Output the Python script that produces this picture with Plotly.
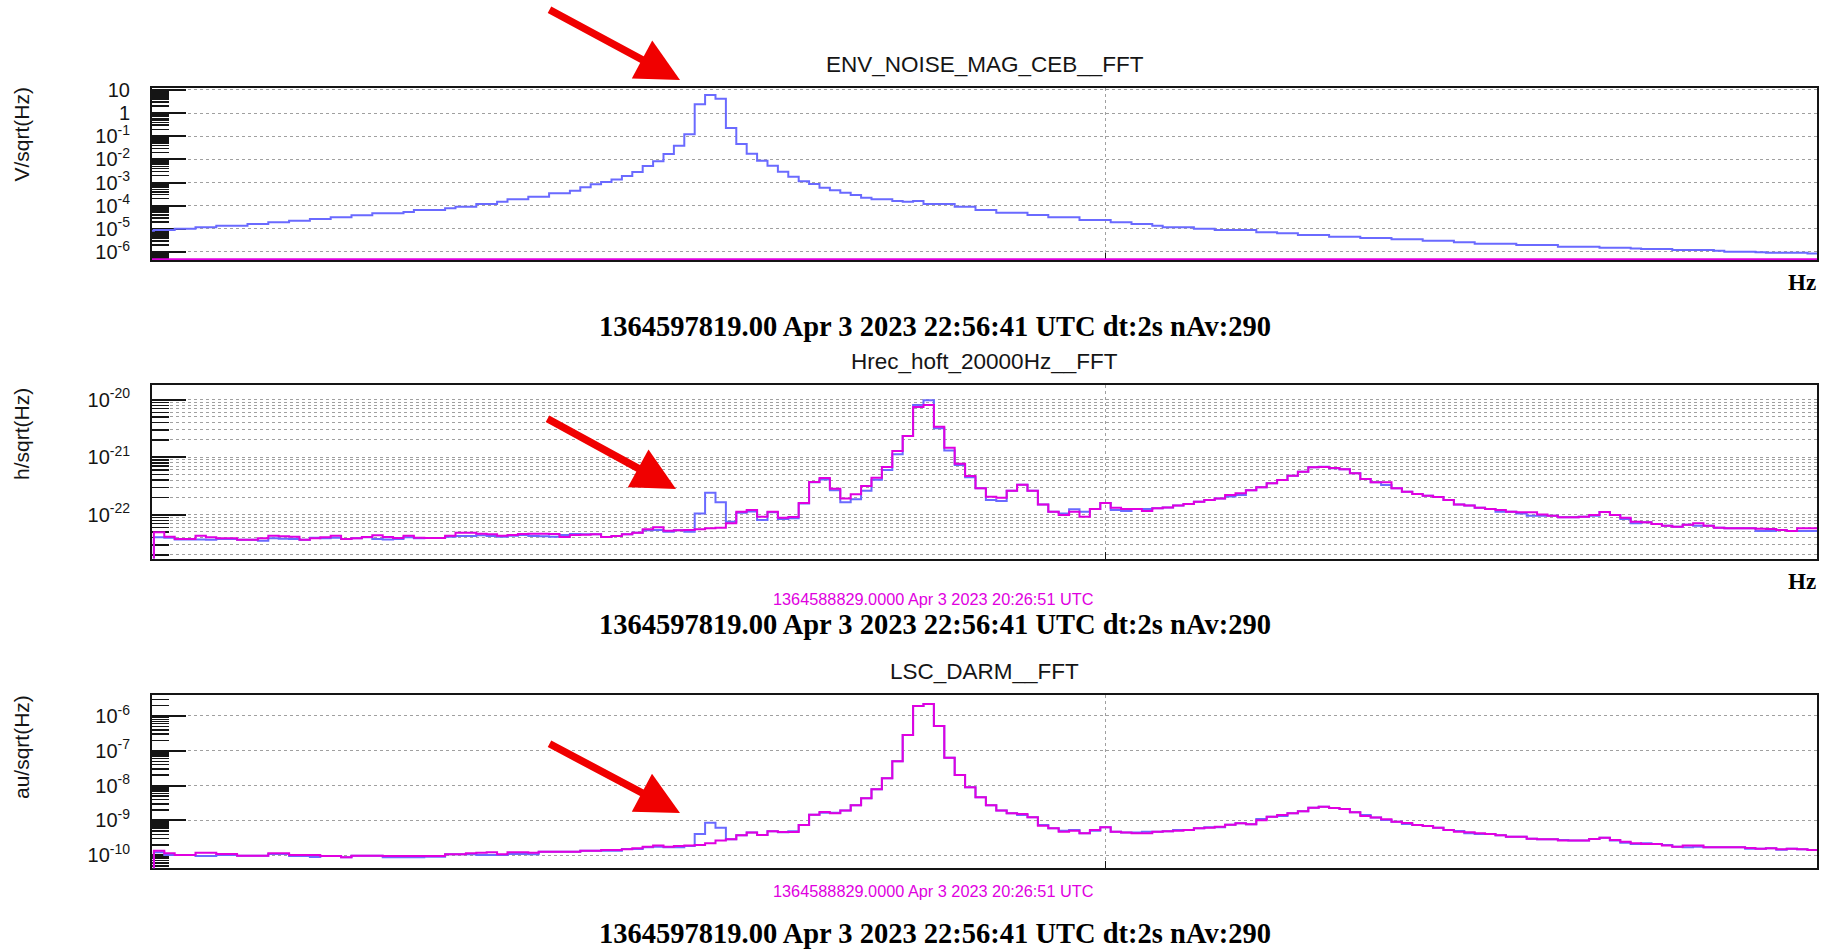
import numpy as np
import plotly.graph_objects as go

W, H = 1821, 950

# ---------------------------------------------------------------------------
# Spectra: 0.5 Hz bins (dt = 2 s), bin centres 4.0 ... 84.0 Hz
# ---------------------------------------------------------------------------
freq = np.arange(4.0, 84.0 + 0.25, 0.5)
half_bin = 0.25

# ENV_NOISE_MAG_CEB  [V/sqrt(Hz)]
env_asd = [
    8.30e-6, 8.87e-6, 8.87e-6, 1.01e-5, 1.01e-5, 1.16e-5, 1.16e-5, 1.37e-5, 1.37e-5, 1.37e-5,
    1.61e-5, 1.61e-5, 1.91e-5, 1.91e-5, 2.25e-5, 2.25e-5, 2.65e-5, 2.65e-5, 3.13e-5, 3.13e-5,
    3.82e-5, 3.82e-5, 4.66e-5, 4.66e-5, 4.66e-5, 5.32e-5, 6.50e-5, 6.50e-5, 6.50e-5, 7.67e-5,
    9.06e-5, 9.06e-5, 1.18e-4, 1.18e-4, 1.49e-4, 1.88e-4, 1.88e-4, 2.45e-4, 2.45e-4, 3.41e-4,
    3.41e-4, 4.45e-4, 6.21e-4, 8.36e-4, 1.05e-3, 1.37e-3, 1.92e-3, 2.85e-3, 5.18e-3, 8.24e-3,
    1.71e-2, 3.93e-2, 0.121, 2.40, 6.08, 4.22, 0.228, 4.63e-2, 1.77e-2, 8.81e-3,
    5.36e-3, 2.95e-3, 1.79e-3, 1.13e-3, 8.65e-4, 6.00e-4, 4.60e-4, 3.65e-4, 2.89e-4, 2.22e-4,
    1.88e-4, 1.88e-4, 1.59e-4, 1.49e-4, 1.59e-4, 1.18e-4, 1.18e-4, 1.18e-4, 9.06e-5, 9.06e-5,
    6.50e-5, 6.50e-5, 4.98e-5, 4.98e-5, 4.98e-5, 3.95e-5, 3.95e-5, 3.13e-5, 3.13e-5, 3.13e-5,
    2.40e-5, 2.40e-5, 2.40e-5, 1.91e-5, 1.91e-5, 1.61e-5, 1.61e-5, 1.37e-5, 1.16e-5, 1.16e-5,
    1.16e-5, 1.01e-5, 1.01e-5, 8.87e-6, 8.87e-6, 8.87e-6, 8.87e-6, 7.03e-6, 7.03e-6, 6.37e-6,
    6.37e-6, 5.40e-6, 5.40e-6, 5.40e-6, 4.57e-6, 4.57e-6, 4.57e-6, 4.00e-6, 4.00e-6, 4.00e-6,
    3.51e-6, 3.51e-6, 3.51e-6, 3.07e-6, 3.07e-6, 3.07e-6, 2.60e-6, 2.60e-6, 2.28e-6, 2.28e-6,
    2.28e-6, 2.28e-6, 1.99e-6, 1.99e-6, 1.99e-6, 1.99e-6, 1.69e-6, 1.69e-6, 1.69e-6, 1.69e-6,
    1.53e-6, 1.53e-6, 1.53e-6, 1.43e-6, 1.34e-6, 1.34e-6, 1.34e-6, 1.21e-6, 1.21e-6, 1.21e-6,
    1.21e-6, 1.14e-6, 1.03e-6, 1.03e-6, 1.03e-6, 9.62e-7, 9.30e-7, 9.30e-7, 9.30e-7, 9.30e-7,
    8.69e-7,
]
env_ref_level = 4.9e-7  # reference trace sits on the axis floor

# Hrec_hoft_20000Hz  [1e-23 h/sqrt(Hz)]
hrec_asd = [
    0.1,
    4.04, 3.98, 3.72, 3.72, 3.72, 3.67, 3.78, 3.78, 3.67, 3.67,
    3.53, 3.88, 3.83, 3.78, 3.67, 3.98, 3.88, 3.98, 3.78, 3.88,
    4.04, 3.78, 3.72, 3.78, 4.04, 3.88, 3.93, 3.93, 4.14, 4.26,
    4.26, 4.37, 4.26, 4.14, 4.31, 4.43, 4.26, 4.20, 4.14, 4.43,
    4.61, 4.55, 4.55, 4.09, 4.26, 4.55, 4.86, 5.34, 5.41, 5.06,
    5.34, 5.06, 10.5, 24.1, 16.4, 7.55, 10.8, 11.4, 8.08, 11.0,
    8.41, 8.63, 15.6, 36.5, 41.1, 26.5, 16.4, 18.5, 26.1, 40.6,
    59.8, 112, 233, 807, 973, 317, 131, 73.0, 44.6, 28.7,
    18.0, 17.3, 26.1, 33.2, 26.1, 15.1, 11.3, 10.5, 12.4, 11.3,
    12.6, 16.0, 12.1, 11.6, 12.6, 12.6, 12.9, 13.4, 14.4, 15.3,
    16.8, 18.0, 19.2, 20.8, 22.0, 26.5, 29.9, 35.1, 40.1, 47.7,
    56.0, 66.6, 68.4, 64.0, 61.4, 52.4, 41.7, 36.5, 32.8, 28.7,
    25.1, 22.9, 21.4, 20.3, 18.0, 15.1, 14.4, 13.2, 12.6, 11.3,
    11.3, 10.5, 9.61, 9.61, 9.61, 8.99, 8.99, 9.23, 9.61, 11.1,
    9.87, 8.41, 7.07, 7.35, 6.88, 6.44, 6.18, 6.70, 6.44, 6.44,
    5.94, 5.78, 5.78, 5.78, 5.20, 5.20, 5.41, 5.20, 5.20, 5.20,
]
hrec_ref = [
    0.1,
    4.93, 4.14, 3.78, 3.78, 4.31, 4.04, 3.88, 3.88, 3.67, 3.67,
    3.88, 4.31, 4.20, 4.14, 3.67, 3.88, 4.04, 4.31, 3.78, 3.88,
    4.09, 4.37, 4.09, 3.93, 4.31, 3.98, 3.93, 3.93, 4.31, 4.86,
    4.86, 4.67, 4.55, 4.31, 4.43, 4.61, 4.67, 4.67, 4.61, 4.09,
    4.43, 4.49, 4.55, 4.09, 4.26, 4.55, 4.86, 5.56, 6.02, 5.27,
    5.34, 5.41, 5.56, 5.78, 5.94, 7.07, 11.3, 12.1, 9.23, 11.3,
    8.87, 9.10, 16.0, 37.0, 43.4, 28.3, 19.2, 22.6, 31.5, 44.0,
    67.5, 128, 233, 745, 807, 339, 146, 77.0, 47.0, 28.7,
    20.6, 19.8, 26.1, 33.2, 26.1, 15.1, 11.3, 9.87, 11.3, 9.23,
    12.6, 16.0, 13.2, 12.6, 12.6, 11.6, 12.9, 13.4, 14.4, 15.3,
    16.8, 18.0, 19.2, 22.0, 23.5, 26.5, 29.9, 35.1, 40.1, 47.7,
    56.0, 66.6, 67.5, 64.8, 61.4, 52.4, 41.7, 36.5, 36.5, 28.7,
    25.1, 22.9, 21.4, 20.3, 18.0, 15.1, 14.4, 13.2, 12.6, 12.1,
    11.3, 11.0, 11.0, 10.1, 9.61, 8.99, 8.99, 9.23, 9.87, 11.1,
    9.87, 8.87, 7.55, 7.35, 6.88, 6.44, 6.18, 6.70, 7.07, 6.44,
    5.94, 5.78, 5.78, 5.78, 5.71, 5.64, 5.41, 5.20, 5.78, 5.78,
]

# LSC_DARM  [1e-10 au/sqrt(Hz)]
darm_asd = [
    0.01,
    1.22, 1.02, 1.02, 1.02, 0.957, 0.957, 1.02, 1.02, 0.978, 0.978,
    0.978, 1.09, 1.09, 0.957, 0.957, 0.896, 0.957, 0.957, 0.877, 0.978,
    0.978, 0.978, 0.877, 0.877, 0.877, 0.877, 0.916, 0.916, 1.07, 1.07,
    1.07, 1.02, 1.02, 1.02, 1.09, 1.09, 1.07, 1.27, 1.27, 1.27,
    1.27, 1.36, 1.36, 1.36, 1.36, 1.52, 1.52, 1.70, 1.77, 1.70,
    1.70, 1.85, 4.10, 8.67, 6.23, 2.88, 3.75, 4.48, 3.84, 4.89,
    4.57, 4.89, 7.43, 14.7, 16.8, 16.8, 19.2, 27.2, 43.3, 78.5,
    162, 500, 2850, 19370, 22080, 5165, 637, 202, 89.6, 46.3,
    27.2, 19.2, 16.1, 14.4, 12.3, 7.43, 5.96, 5.11, 5.33, 4.28,
    5.11, 6.37, 4.78, 4.48, 4.48, 4.78, 4.78, 4.89, 5.33, 5.33,
    5.96, 6.37, 6.37, 7.59, 8.29, 7.76, 11.0, 12.9, 13.5, 16.1,
    18.3, 23.3, 24.9, 22.8, 21.4, 17.1, 14.4, 12.1, 10.4, 9.26,
    7.94, 7.43, 6.95, 6.23, 5.33, 5.00, 4.28, 4.10, 4.10, 3.75,
    3.43, 3.43, 3.01, 2.88, 2.88, 2.75, 2.64, 2.64, 2.94, 3.21,
    2.64, 2.31, 2.12, 2.21, 2.12, 1.98, 1.77, 1.70, 1.77, 1.70,
    1.70, 1.70, 1.70, 1.55, 1.55, 1.59, 1.45, 1.55, 1.49, 1.42,
]
darm_ref = [
    0.01,
    1.36, 1.14, 1.02, 1.02, 1.19, 1.19, 1.09, 1.09, 0.978, 0.978,
    0.978, 1.14, 1.14, 1.02, 1.02, 1.02, 0.957, 0.957, 0.877, 0.978,
    0.978, 0.978, 0.957, 0.957, 0.957, 0.957, 0.957, 0.957, 1.07, 1.07,
    1.14, 1.19, 1.22, 1.07, 1.22, 1.22, 1.19, 1.27, 1.27, 1.27,
    1.27, 1.36, 1.36, 1.42, 1.42, 1.49, 1.59, 1.77, 1.90, 1.77,
    1.85, 1.90, 1.98, 2.21, 2.64, 2.88, 3.75, 4.48, 3.84, 4.89,
    4.68, 4.68, 7.43, 14.7, 17.5, 16.1, 19.2, 27.2, 43.3, 78.5,
    162, 500, 2850, 19370, 22080, 5165, 637, 202, 89.6, 46.3,
    27.2, 19.2, 16.1, 15.4, 12.3, 7.11, 5.96, 4.78, 5.11, 4.28,
    5.33, 6.37, 4.78, 4.48, 4.28, 4.28, 4.78, 4.89, 5.11, 5.33,
    5.96, 6.23, 6.65, 7.59, 8.29, 7.76, 10.1, 12.9, 14.4, 16.1,
    18.3, 23.3, 24.9, 22.8, 21.4, 17.1, 13.5, 12.1, 10.8, 9.26,
    8.48, 7.43, 6.95, 6.23, 5.33, 4.78, 4.57, 4.28, 4.10, 3.75,
    3.43, 3.43, 3.01, 2.88, 2.88, 2.64, 2.64, 2.64, 2.94, 3.21,
    2.75, 2.47, 2.21, 2.12, 2.12, 1.90, 1.77, 1.90, 1.90, 1.70,
    1.70, 1.70, 1.70, 1.63, 1.55, 1.59, 1.49, 1.55, 1.49, 1.42,
]

for arr in (env_asd, hrec_asd, hrec_ref, darm_asd, darm_ref):
    assert len(arr) == len(freq), len(arr)

# text
titles = ["ENV_NOISE_MAG_CEB__FFT", "Hrec_hoft_20000Hz__FFT", "LSC_DARM__FFT"]
units = ["V/sqrt(Hz)", "h/sqrt(Hz)", "au/sqrt(Hz)"]
stamp = "1364597819.00 Apr 3 2023 22:56:41 UTC dt:2s nAv:290"
ref_stamp = "1364588829.0000 Apr 3 2023 20:26:51 UTC"

# ---------------------------------------------------------------------------
BLUE = "#6a6aff"
MAGENTA = "#e000e0"
GRID = "#a0a0a0"
INK = "#151515"
SANS = "Liberation Sans, Arial, Helvetica, sans-serif"
SERIF = "Liberation Serif, Times New Roman, serif"

edges = np.append(freq - half_bin, freq[-1] + half_bin)


def step_y(vals, scale=1.0):
    v = np.asarray(vals, dtype=float) * scale
    return np.append(v, v[-1])


# panel frames in page pixels (top, bottom)
PLOT_L, PLOT_R = 152, 1817
panels = [(88.3, 260.0), (384.5, 558.5), (694.5, 868.3)]
xrange_hz = [4.159, 84.207]
yranges = [[-6.347, 1.073], [-22.762, -19.736], [-10.373, -5.383]]


def ydom(top, bot):
    return [1 - bot / H, 1 - top / H]


def sup(e):
    return f"10<sup>{e}</sup>"


fig = go.Figure()

series = [
    (env_asd, 1.0, [env_ref_level] * len(freq), 1.0),
    (hrec_asd, 1e-23, hrec_ref, 1e-23),
    (darm_asd, 1e-10, darm_ref, 1e-10),
]
for k, (cur, cs, ref, rs) in enumerate(series):
    ax = "" if k == 0 else str(k + 1)
    fig.add_trace(go.Scatter(x=edges, y=step_y(cur, cs), mode="lines",
                             line=dict(color=BLUE, width=2, shape="hv"),
                             xaxis="x" + ax, yaxis="y" + ax, showlegend=False,
                             hoverinfo="skip"))
    fig.add_trace(go.Scatter(x=edges, y=step_y(ref, rs), mode="lines",
                             line=dict(color=MAGENTA, width=2, shape="hv"),
                             xaxis="x" + ax, yaxis="y" + ax, showlegend=False,
                             hoverinfo="skip"))

# y tick definitions per panel
ytick_sets = [
    ([1e-6, 1e-5, 1e-4, 1e-3, 1e-2, 1e-1, 1, 10],
     [sup(-6), sup(-5), sup(-4), sup(-3), sup(-2), sup(-1), "1", "10"], range(-7, 2)),
    ([1e-22, 1e-21, 1e-20], [sup(-22), sup(-21), sup(-20)], range(-23, -19)),
    ([1e-10, 1e-9, 1e-8, 1e-7, 1e-6],
     [sup(-10), sup(-9), sup(-8), sup(-7), sup(-6)], range(-11, -5)),
]

layout = dict(
    width=W, height=H,
    margin=dict(l=0, r=0, t=0, b=0, pad=0, autoexpand=False),
    paper_bgcolor="white", plot_bgcolor="white", showlegend=False,
)

for k, (top, bot) in enumerate(panels):
    sfx = "" if k == 0 else str(k + 1)
    tv, tt, decs = ytick_sets[k]
    minor_vals = [m * 10.0 ** e for e in decs for m in range(2, 10)]
    layout["xaxis" + sfx] = dict(
        domain=[PLOT_L / W, PLOT_R / W], range=xrange_hz, anchor="y" + sfx,
        showline=True, mirror=True, linecolor=INK, linewidth=2,
        ticks="inside", tickmode="array", tickvals=[50], ticklen=7,
        tickwidth=1.5, tickcolor=INK, showticklabels=False,
        showgrid=True, gridcolor=GRID, griddash="dot", gridwidth=1,
        zeroline=False, layer="below traces", fixedrange=True, automargin=False,
    )
    layout["yaxis" + sfx] = dict(
        type="log", domain=ydom(top, bot), range=yranges[k], anchor="x" + sfx,
        showline=True, mirror=True, linecolor=INK, linewidth=2,
        ticks="inside", ticklen=34, tickwidth=2, tickcolor=INK,
        tickmode="array", tickvals=tv, ticktext=tt,
        tickfont=dict(family=SANS, size=20, color=INK),
        ticklabelstandoff=16,
        showgrid=True, gridcolor=GRID, griddash="dot", gridwidth=1,
        minor=dict(tickmode="array", tickvals=minor_vals, ticks="inside",
                   ticklen=17, tickwidth=1.5, tickcolor=INK,
                   showgrid=(k == 1), gridcolor=GRID, griddash="dot",
                   gridwidth=1),
        zeroline=False, layer="below traces", fixedrange=True, automargin=False,
    )

fig.update_layout(**layout)

ann = []
title_y = [65, 362, 671]
unit_top = [85, 386, 693]
stamp_y = [326, 624, 933]
for k in range(3):
    ann.append(dict(text=titles[k], x=(PLOT_L + PLOT_R) / 2 / W, y=1 - title_y[k] / H,
                    xref="paper", yref="paper", showarrow=False,
                    xanchor="center", yanchor="middle",
                    font=dict(family=SANS, size=22.5, color=INK)))
    ann.append(dict(text=units[k], x=21 / W, y=1 - unit_top[k] / H,
                    xref="paper", yref="paper", showarrow=False, textangle=-90,
                    xanchor="center", yanchor="top",
                    font=dict(family=SANS, size=21, color=INK)))
    ann.append(dict(text="<b>" + stamp + "</b>", x=935 / W, y=1 - stamp_y[k] / H,
                    xref="paper", yref="paper", showarrow=False,
                    xanchor="center", yanchor="middle",
                    font=dict(family=SERIF, size=28.5, color="black")))

for yy in (282, 581):
    ann.append(dict(text="<b>Hz</b>", x=1802 / W, y=1 - yy / H, xref="paper",
                    yref="paper", showarrow=False, xanchor="center",
                    yanchor="middle", font=dict(family=SERIF, size=23, color="black")))

for yy in (599, 891):
    ann.append(dict(text=ref_stamp, x=934 / W, y=1 - yy / H, xref="paper",
                    yref="paper", showarrow=False, xanchor="center",
                    yanchor="middle", font=dict(family=SANS, size=16.3, color=MAGENTA)))

# red pointers towards the 31 Hz line
for tip_x, tip_y, dx, dy in [(680, 80, -132, -71), (676, 489, -130, -71),
                             (680, 813, -132, -70)]:
    ann.append(dict(text="", x=tip_x / W, y=1 - tip_y / H, xref="paper", yref="paper",
                    ax=dx, ay=dy, showarrow=True, arrowhead=2, arrowsize=1.15,
                    arrowwidth=7.5, arrowcolor="#f00000", standoff=0))

fig.update_layout(annotations=ann)

# pin the figure to the page origin so the page is exactly one figure tall
page_fix = (
    "document.documentElement.style.margin='0';"
    "document.documentElement.style.overflow='hidden';"
    "document.body.style.margin='0';"
    "document.body.style.overflow='hidden';"
    "var gd=document.getElementById('{plot_id}');"
    "gd.style.position='absolute';gd.style.left='0px';gd.style.top='0px';"
)

fig.write_html("out.html", config={"displayModeBar": False, "staticPlot": True},
               post_script=page_fix)
